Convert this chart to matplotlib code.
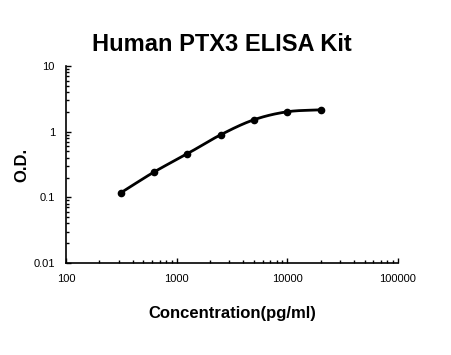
import numpy as np
import matplotlib
matplotlib.use("Agg")
from matplotlib import pyplot as plt
from matplotlib.ticker import LogLocator, FixedLocator, FixedFormatter

# standard curve readings
conc = [312.5, 625, 1250, 2500, 5000, 10000, 20000]   # pg/ml
od = [0.117, 0.243, 0.461, 0.897, 1.52, 2.01, 2.15]

xticks = [100, 1000, 10000, 100000]
xticklabels = ["100", "1000", "10000", "100000"]
yticks = [0.01, 0.1, 1, 10]
yticklabels = ["0.01", "0.1", "1", "10"]


def smooth(xs, ys, n=30):
    # Catmull-Rom through the points in log-log space
    lx = np.log10(xs)
    ly = np.log10(ys)
    px = np.concatenate([[2*lx[0]-lx[1]], lx, [2*lx[-1]-lx[-2]]])
    py = np.concatenate([[2*ly[0]-ly[1]], ly, [2*ly[-1]-ly[-2]]])
    outx, outy = [], []
    t = np.linspace(0, 1, n)
    for i in range(1, len(px)-2):
        for arr, out in ((px, outx), (py, outy)):
            p0, p1, p2, p3 = arr[i-1], arr[i], arr[i+1], arr[i+2]
            out.extend(0.5*((2*p1) + (-p0+p2)*t + (2*p0-5*p1+4*p2-p3)*t**2
                            + (-p0+3*p1-3*p2+p3)*t**3))
    return 10**np.array(outx), 10**np.array(outy)


plt.rcParams['font.family'] = ['Liberation Sans', 'DejaVu Sans']

fig = plt.figure(figsize=(4.51, 3.55), dpi=100)
ax = fig.add_axes([0.1463, 0.2592, 0.7362, 0.5549])

cx, cy = smooth(conc, od)
ax.plot(cx, cy, color='black', lw=2)
ax.plot(conc, od, 'o', color='black', ms=4.5)

ax.set_xscale('log')
ax.set_yscale('log')
ax.set_xlim(100, 100000)
ax.set_ylim(0.01, 10)

ax.xaxis.set_major_locator(FixedLocator(xticks))
ax.xaxis.set_major_formatter(FixedFormatter(xticklabels))
ax.yaxis.set_major_locator(FixedLocator(yticks))
ax.yaxis.set_major_formatter(FixedFormatter(yticklabels))
ax.xaxis.set_minor_locator(LogLocator(base=10, subs=np.arange(2, 10)))
ax.yaxis.set_minor_locator(LogLocator(base=10, subs=np.arange(2, 10)))
ax.xaxis.set_minor_formatter(plt.NullFormatter())
ax.yaxis.set_minor_formatter(plt.NullFormatter())

ax.tick_params(which='both', direction='in', labelsize=8, width=1, colors='black')
ax.tick_params(which='major', length=3.5)
ax.tick_params(which='minor', length=2.5)
ax.tick_params(axis='x', pad=8)
ax.tick_params(axis='y', pad=8)

for s in ['top', 'right']:
    ax.spines[s].set_visible(False)
for s in ['left', 'bottom']:
    ax.spines[s].set_linewidth(1.2)

fig.text(0.492, 0.875, "Human PTX3 ELISA Kit", ha='center', va='center',
         fontsize=17, fontweight='bold')
ax.set_xlabel("Concentration(pg/ml)", fontsize=12, fontweight='bold', labelpad=16)
ax.set_ylabel("O.D.", fontsize=12, fontweight='bold', labelpad=3)

fig.savefig("out.png", dpi=100)
